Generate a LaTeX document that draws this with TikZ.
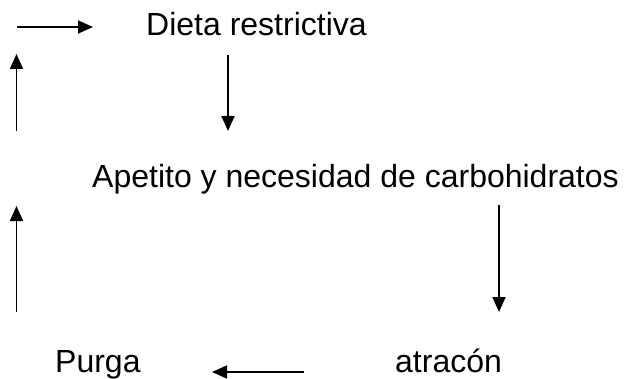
\documentclass[tikz,border=0pt]{standalone}
\usepackage{fontspec}
\setmainfont{Liberation Sans}
\usetikzlibrary{arrows.meta}
\begin{document}
\begin{tikzpicture}[x=1pt,y=-1pt,
  lbl/.style={anchor=base west,inner sep=0pt,font=\fontsize{32}{36}\selectfont},
  arr/.style={line width=1.7pt,-{Triangle[length=15pt,width=13pt]}}]
\useasboundingbox (0,0) rectangle (628,379);
\node[lbl] (dieta) at (146,36) {Dieta restrictiva};
\node[lbl] (apetito) at (92,188) {Apetito y necesidad de carbohidratos};
\node[lbl] (purga) at (55,372) {Purga};
\node[lbl] (atracon) at (395,372) {atracón};
\coordinate (t1) at (17,27);  \coordinate (t2) at (93,27);
\coordinate (d1a) at (228,55); \coordinate (d1b) at (228,131);
\coordinate (d2a) at (499,205); \coordinate (d2b) at (499,312);
\coordinate (b1) at (304,372); \coordinate (b2) at (212,372);
\coordinate (u1a) at (16.5,312); \coordinate (u1b) at (16.5,206);
\coordinate (u2a) at (16.5,131); \coordinate (u2b) at (16.5,54);
\draw[arr] (t1) -- (t2);
\draw[arr] (d1a) -- (d1b);
\draw[arr] (d2a) -- (d2b);
\draw[arr] (b1) -- (b2);
\draw[arr] (u1a) -- (u1b);
\draw[arr] (u2a) -- (u2b);
\end{tikzpicture}
\end{document}
